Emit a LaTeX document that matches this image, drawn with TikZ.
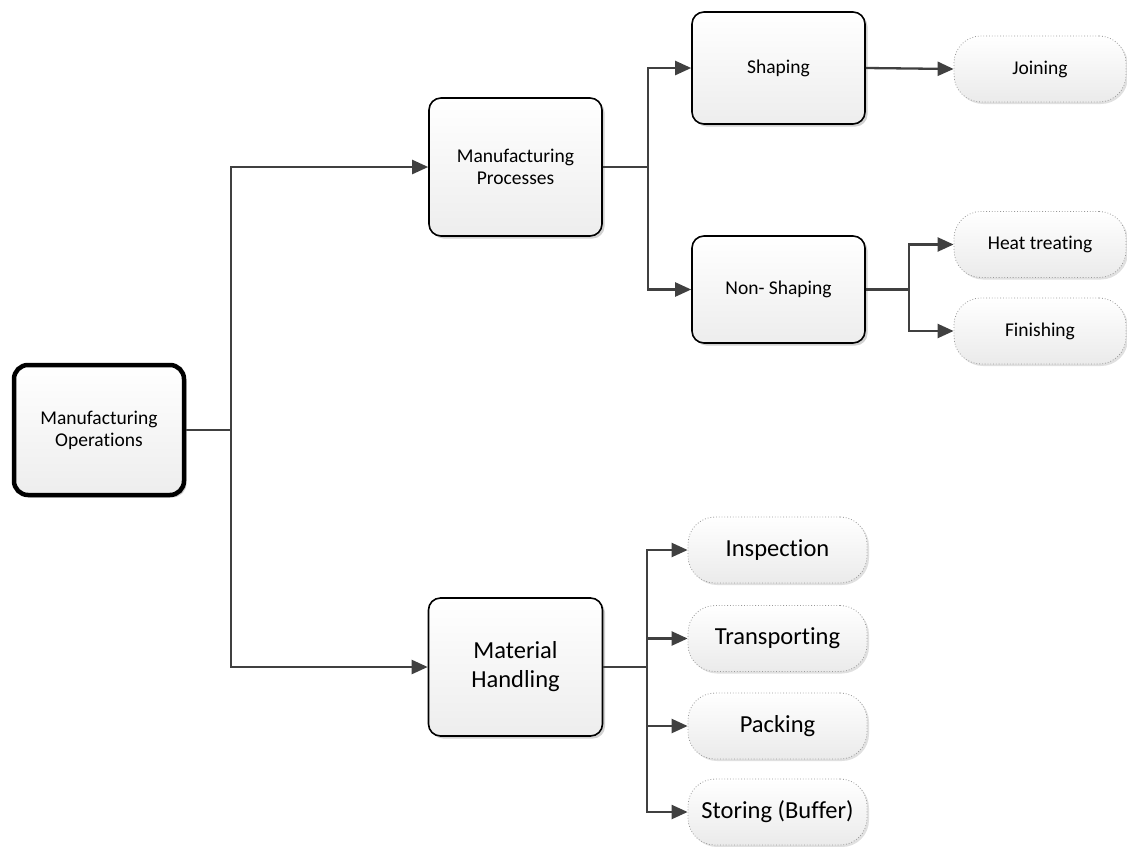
\documentclass[tikz,border=0pt]{standalone}
\usepackage{fontspec}
\setmainfont[Ligatures={NoCommon}]{Carlito}
\usetikzlibrary{arrows.meta,shadows}
\definecolor{lineg}{HTML}{404040}
\tikzset{
  box/.style={draw=black, line width=1.6pt, rounded corners=12pt, top color=white, bottom color=black!7,
    drop shadow={shadow xshift=2.5pt, shadow yshift=-2.5pt, opacity=0.18, fill=black},
    inner sep=0pt, align=center, font=\fontsize{19.5}{22}\selectfont},
  bigbox/.style={box, line width=4.5pt, rounded corners=14pt},
  pill/.style={draw=black!40, dotted, line width=0.8pt, rounded corners=27pt, top color=white, bottom color=black!8,
    drop shadow={shadow xshift=2pt, shadow yshift=-2pt, opacity=0.12, fill=black},
    inner sep=0pt, align=center, minimum width=174pt, minimum height=66pt},
  smalltxt/.style={font=\fontsize{19.5}{22}\selectfont},
  bigtxt/.style={font=\fontsize{24.5}{29}\selectfont},
  arr/.style={draw=lineg, line width=2.3pt, -{Triangle[length=16pt,width=14pt]}},
  ln/.style={draw=lineg, line width=2.3pt}
}
\begin{document}
\begin{tikzpicture}[x=1pt,y=-1pt]
\useasboundingbox (0,0) rectangle (1127,846);
% main boxes
\node[bigbox, minimum width=170pt, minimum height=130pt] (mo) at (99,430) {Manufacturing\\Operations};
\node[box, minimum width=173pt, minimum height=138pt] (mp) at (515.5,167) {Manufacturing\\Processes};
\node[box, minimum width=174pt, minimum height=138pt, bigtxt] (mh) at (515.5,667) {Material\\Handling};
\node[box, minimum width=173pt, minimum height=112pt] (sh) at (778.5,68) {Shaping};
\node[box, minimum width=173pt, minimum height=107pt] (ns) at (778.5,289.5) {Non- Shaping};
% pills
\node[pill, smalltxt, minimum width=172pt] (jo) at (1040,69) {Joining};
\node[pill, smalltxt, minimum width=172pt] (ht) at (1040,244.5) {Heat treating};
\node[pill, smalltxt, minimum width=172pt] (fi) at (1040,331) {Finishing};
\node[pill, bigtxt, minimum width=179pt] (in) at (777.5,550) {Inspection};
\node[pill, bigtxt, minimum width=179pt] (tr) at (777.5,638.5) {Transporting};
\node[pill, bigtxt, minimum width=179pt] (pa) at (777.5,726) {Packing};
\node[pill, bigtxt, minimum width=179pt] (st) at (777.5,812) {Storing (Buffer)};
% connectors
\draw[ln] (mo.east) -- ++(45,0) coordinate (j1);
\draw[arr] (j1) |- (mp.west);
\draw[arr] (j1) |- (mh.west);
\draw[ln] (mp.east) -- ++(45,0) coordinate (j2);
\draw[arr] (j2) |- (sh.west);
\draw[arr] (j2) |- (ns.west);
\draw[arr] (sh.east) -- (jo.west);
\draw[ln] (ns.east) -- ++(43,0) coordinate (j3);
\draw[arr] (j3) |- (ht.west);
\draw[arr] (j3) |- (fi.west);
\draw[ln] (mh.east) -- ++(44,0) coordinate (j4);
\draw[arr] (j4) |- (in.west);
\draw[arr] (j4) |- (tr.west);
\draw[arr] (j4) |- (pa.west);
\draw[arr] (j4) |- (st.west);
\end{tikzpicture}
\end{document}
